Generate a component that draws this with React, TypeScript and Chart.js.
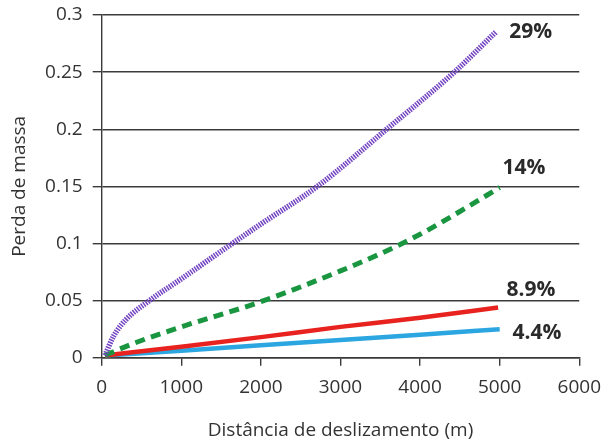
import React, { useEffect, useRef } from 'react';
import { Chart, registerables } from 'chart.js';

Chart.register(...registerables);

// distance (m) / mass loss
const purpleX = [40, 150, 300, 600, 1000, 1600, 2000, 2710, 3580, 4430, 4950];
const purpleY = [0.002, 0.019, 0.033, 0.05, 0.069, 0.098, 0.117, 0.15, 0.2, 0.25, 0.285];

const greenX = [40, 400, 1000, 2000, 3000, 3500, 4000, 4500, 5000];
const greenY = [0.002, 0.0125, 0.027, 0.049, 0.076, 0.091, 0.108, 0.128, 0.149];

const redX = [40, 1000, 2000, 3000, 4000, 4980];
const redY = [0.002, 0.0096, 0.018, 0.027, 0.035, 0.044];

const blueX = [40, 1000, 2000, 3000, 4000, 5000];
const blueY = [0.002, 0.006, 0.011, 0.0155, 0.02, 0.025];

const slopeLabels = ['29%', '14%', '8.9%', '4.4%'];
const slopeLabelX = [5120, 5035, 5085, 5160];
const slopeLabelY = [0.285, 0.166, 0.059, 0.0217];

const xTicks = [0, 1000, 2000, 3000, 4000, 5000, 6000];
const xTickLabels = ['0', '1000', '2000', '3000', '4000', '5000', '6000'];
const yTicks = [0, 0.05, 0.1, 0.15, 0.2, 0.25, 0.3];
const yTickLabels = ['0', '0.05', '0.1', '0.15', '0.2', '0.25', '0.3'];

const FONT = '"Open Sans", sans-serif';
const AXIS = '#3a3a3a';
const TEXT = '#333333';

const pts = (xs: number[], ys: number[]) => xs.map((x, i) => ({ x, y: ys[i] }));

const slopeLabelPlugin = {
  id: 'slopeLabels',
  afterDatasetsDraw(chart: any) {
    const { ctx, scales } = chart;
    ctx.save();
    ctx.font = `bold 21px ${FONT}`;
    ctx.fillStyle = '#2a2a2a';
    ctx.textAlign = 'left';
    ctx.textBaseline = 'middle';
    slopeLabels.forEach((t, i) => {
      ctx.fillText(t, scales.x.getPixelForValue(slopeLabelX[i]), scales.y.getPixelForValue(slopeLabelY[i]));
    });
    ctx.restore();
  },
};

const App: React.FC = () => {
  const chartRef = useRef<HTMLCanvasElement>(null);
  const chartInstance = useRef<Chart | null>(null);

  useEffect(() => {
    if (!chartRef.current) return;
    const ctx = chartRef.current.getContext('2d');
    if (!ctx) return;

    const line = (data: any, color: string, width: number, dash: number[]) => ({
      data,
      borderColor: color,
      backgroundColor: color,
      borderWidth: width,
      borderDash: dash,
      borderCapStyle: 'butt' as const,
      pointRadius: 0,
      cubicInterpolationMode: 'monotone' as const,
      fill: false,
    });

    chartInstance.current = new Chart(ctx, {
      type: 'line',
      data: {
        datasets: [
          line(pts(purpleX, purpleY), '#7244c2', 5.5, [1.5, 1.1]),
          line(pts(greenX, greenY), '#1a9641', 5, [10, 6.5]),
          line(pts(redX, redY), '#e8221f', 4.5, []),
          line(pts(blueX, blueY), '#2ba6e0', 4.5, []),
        ],
      },
      options: {
        animation: false,
        responsive: true,
        maintainAspectRatio: false,
        layout: { padding: { left: 0, right: 27, top: 15, bottom: 0 } },
        plugins: {
          legend: { display: false },
          tooltip: { enabled: false },
        },
        scales: {
          x: {
            type: 'linear',
            min: 0,
            max: 6000,
            afterFit: (s: any) => {
              s.height = 84.3;
            },
            afterBuildTicks: (s: any) => {
              s.ticks = xTicks.map((v) => ({ value: v }));
            },
            ticks: {
              callback: (_v: any, i: number) => xTickLabels[i],
              font: { family: FONT, size: 19 },
              color: TEXT,
              padding: 10,
              maxRotation: 0,
            },
            grid: { drawOnChartArea: false, drawTicks: true, tickLength: 8, color: AXIS, lineWidth: 1.4 },
            border: { display: true, color: AXIS, width: 1.4 },
            title: {
              display: true,
              text: 'Distância de deslizamento (m)',
              font: { family: FONT, size: 19 },
              color: TEXT,
              padding: { top: 0, bottom: 0 },
            },
          },
          y: {
            type: 'linear',
            min: 0,
            max: 0.3,
            afterFit: (s: any) => {
              s.width = 101.7;
              s.paddingTop = 0;
              s.paddingBottom = 0;
            },
            afterBuildTicks: (s: any) => {
              s.ticks = yTicks.map((v) => ({ value: v }));
            },
            ticks: {
              callback: (_v: any, i: number) => yTickLabels[i],
              font: { family: FONT, size: 19 },
              color: TEXT,
              padding: 10,
            },
            grid: { drawTicks: true, tickLength: 9, color: AXIS, lineWidth: 1.4 },
            border: { display: true, color: AXIS, width: 1.4 },
            title: {
              display: true,
              text: 'Perda de massa',
              font: { family: FONT, size: 19 },
              color: TEXT,
              padding: { top: 8, bottom: 0 },
            },
          },
        },
      },
      plugins: [slopeLabelPlugin],
    });

    return () => {
      if (chartInstance.current) {
        chartInstance.current.destroy();
        chartInstance.current = null;
      }
    };
  }, []);

  return (
    <div style={{ position: 'fixed', left: 0, top: 0, width: 611, height: 442, background: '#fff' }}>
      <canvas ref={chartRef} />
    </div>
  );
};

export default App;
